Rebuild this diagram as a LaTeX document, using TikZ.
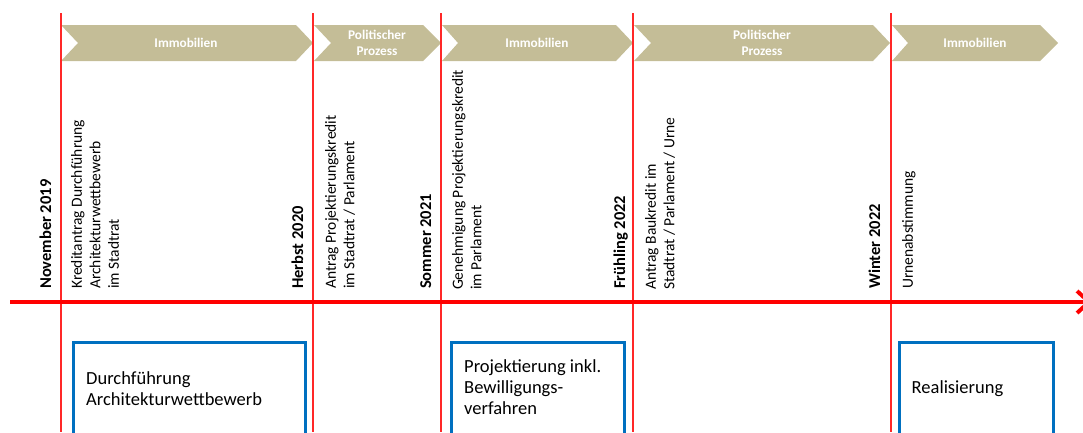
\documentclass[tikz,border=0pt]{standalone}
\usepackage{fontspec}
\setmainfont{Carlito}
\usetikzlibrary{arrows.meta}
\definecolor{chevtan}{RGB}{196,189,151}
\definecolor{boxblue}{RGB}{0,112,192}
\definecolor{axisred}{RGB}{255,0,0}
\definecolor{linered}{RGB}{255,40,40}
\begin{document}
\begin{tikzpicture}[x=1pt,y=-1pt,
 chev/.style={fill=chevtan,draw=none},
 chevtext/.style={text=white,font=\fontsize{13.3}{16.5}\selectfont\bfseries,align=center,inner sep=0},
 datelab/.style={rotate=90,anchor=base west,inner sep=0,font=\fontsize{16.5}{19}\selectfont\bfseries},
 evtlab/.style={rotate=90,anchor=north west,inner sep=0,align=left,font=\fontsize{15.5}{18.5}\selectfont},
 vline/.style={draw=linered,line width=1.2},
 axisline/.style={draw=axisred,line width=4,-{Straight Barb[length=12pt,width=22pt]}},
 phase/.style={draw=boxblue,line width=3},
 phasetext/.style={anchor=north west,inner sep=0,align=left,font=\fontsize{18.5}{21}\selectfont}]
\useasboundingbox (0,0) rectangle (1083,432);
% chevrons
\fill[chev] (61,25) -- (296,25) -- (313,43) -- (296,61) -- (61,61) -- (78,43) -- cycle;
\fill[chev] (314,25) -- (423,25) -- (441,43) -- (423,61) -- (314,61) -- (331,43) -- cycle;
\fill[chev] (442,25) -- (616,25) -- (633,43) -- (616,61) -- (442,61) -- (458,43) -- cycle;
\fill[chev] (634,25) -- (873,25) -- (890,43) -- (873,61) -- (634,61) -- (651,43) -- cycle;
\fill[chev] (892,25) -- (1040,25) -- (1058,43) -- (1040,61) -- (892,61) -- (908,43) -- cycle;
\node[chevtext] (c1) at (186,43) {Immobilien};
\node[chevtext] (c2) at (377,43) {Politischer\\Prozess};
\node[chevtext] (c3) at (537,43) {Immobilien};
\node[chevtext] (c4) at (762,43) {Politischer\\Prozess};
\node[chevtext] (c5) at (975,43) {Immobilien};
% vertical lines
\foreach \n/\x in {1/61,2/313,3/441,4/633,5/891}{
  \coordinate (vt\n) at (\x,13);
  \coordinate (vb\n) at (\x,432);
  \draw[vline] (vt\n) -- (vb\n);
}
% axis
\coordinate (ax0) at (10,302);
\coordinate (ax1) at (1092,302);
\draw[axisline] (ax0) -- (ax1);
% dates
\node[datelab] (d1) at (51,289) {November 2019};
\node[datelab] (d2) at (303,289) {Herbst 2020};
\node[datelab] (d3) at (431,289) {Sommer 2021};
\node[datelab] (d4) at (625,289) {Frühling 2022};
\node[datelab] (d5) at (880,289) {Winter 2022};
% events
\node[evtlab] (e1) at (71,289) {Kreditantrag Durchführung\\Architekturwettbewerb\\im Stadtrat};
\node[evtlab] (e2) at (325,289) {Antrag Projektierungskredit\\im Stadtrat / Parlament};
\node[evtlab] (e3) at (452,290) {Genehmigung Projektierungskredit\\im Parlament};
\node[evtlab] (e4) at (645,290) {Antrag Baukredit im\\Stadtrat / Parlament / Urne};
\node[evtlab] (e5) at (902,289) {Urnenabstimmung};
% phase boxes
\draw[phase] (73,342) rectangle (305,445);
\draw[phase] (451,342) rectangle (624,445);
\draw[phase] (899,342) rectangle (1053,445);
\node[phasetext] (p1) at (86,371) {Durchführung\\Architekturwettbewerb};
\node[phasetext] (p2) at (464,359) {Projektierung inkl.\\Bewilligungs-\\verfahren};
\node[phasetext] (p3) at (911.5,380) {Realisierung};
\end{tikzpicture}
\end{document}
